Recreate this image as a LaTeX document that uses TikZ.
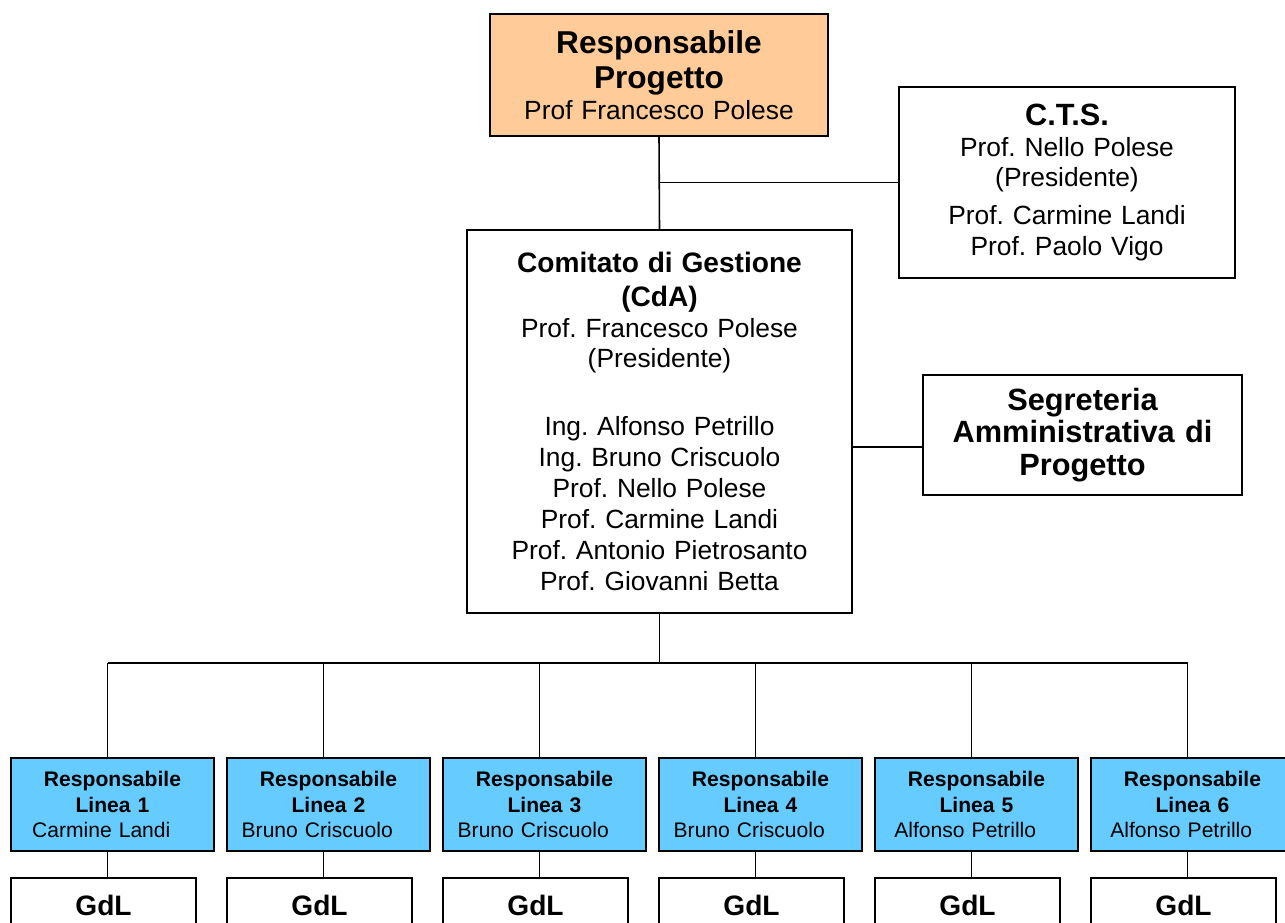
\documentclass[tikz,border=0pt]{standalone}
\usepackage{fontspec}
\usepackage{tikz}
\setmainfont{Liberation Sans}
\frenchspacing
\definecolor{chiefpeach}{RGB}{255, 204, 153}
\definecolor{leadblue}{RGB}{102, 204, 255}
\usetikzlibrary{positioning, calc}
\newcommand{\bigtitle}{\fontsize{18}{19.8}\selectfont\bfseries}
\newcommand{\boxtitle}{\fontsize{16}{19}\selectfont\bfseries}
\newcommand{\sidetitle}{\fontsize{17.5}{18.5}\selectfont\bfseries}
\newcommand{\boxtext}{\fontsize{15}{17.6}\selectfont}
\newcommand{\leadtext}{\fontsize{12}{14.4}\selectfont}

\begin{document}
\begin{tikzpicture}[
    x=0.02cm, y=-0.02cm,
    box/.style={rectangle, draw, line width=1.2pt, inner sep=0pt, align=center, font=\boxtext},
    chief/.style={box, fill=chiefpeach, minimum width=6.76cm, minimum height=2.44cm, text width=6.6cm},
    board/.style={box, fill=white},
    lead/.style={box, fill=leadblue, minimum width=4.06cm, minimum height=1.86cm, text width=3.9cm, font=\leadtext},
    wgbox/.style={box, fill=white, minimum width=3.7cm, minimum height=1.08cm, text width=3.5cm, font=\boxtitle},
    link/.style={line width=0.9pt}
]
    \useasboundingbox (0,0) rectangle (1285,923);
    \clip (0,0) rectangle (1285,923);

    \node[chief] (rp) at (659, 75) {{\bigtitle Responsabile\\Progetto\par}Prof Francesco Polese};

    \node[board, minimum width=6.72cm, minimum height=3.82cm, text width=6.5cm] (cts) at (1067, 182.5)
        {{\sidetitle C.T.S.\par}Prof. Nello Polese\\(Presidente)\\[4pt]Prof. Carmine Landi\\Prof. Paolo Vigo};

    \node[board, minimum width=7.7cm, minimum height=7.66cm, text width=7.4cm] (cdg) at (659.5, 421.5)
        {{\boxtitle Comitato di Gestione\\(CdA)\par}Prof. Francesco Polese\\(Presidente)\\[21pt]
         Ing. Alfonso Petrillo\\Ing. Bruno Criscuolo\\Prof. Nello Polese\\Prof. Carmine Landi\\
         Prof. Antonio Pietrosanto\\Prof. Giovanni Betta};

    \node[board, minimum width=6.38cm, minimum height=2.4cm, text width=6.2cm, font=\sidetitle] (seg) at (1082.5, 435)
        {Segreteria\\Amministrativa di\\Progetto};

    % linee e gruppi di lavoro
    \foreach \who [count=\i] in {Carmine Landi, Bruno Criscuolo, Bruno Criscuolo, Bruno Criscuolo, Alfonso Petrillo, Alfonso Petrillo} {
        \node[lead] (rl\i) at ({112.5+216*(\i-1)}, 804.5) {{\bfseries Responsabile\\Linea \i\par}\who\rule{0.45cm}{0pt}};
        \node[wgbox] (gdl\i) at ({103.5+216*(\i-1)}, 905) {GdL};
        \coordinate (d\i) at ({107.5+216*(\i-1)}, 663);
    }

    \draw[link] (rp.south) -- (cdg.north);
    \draw[link] (cts.west) -- (cts.west -| rp.south);
    \draw[link] ([yshift=-6.8pt]seg.west) -- ([yshift=-6.8pt]seg.west -| cdg.east);
    \draw[link] (cdg.south) -- (cdg.south |- d1);
    \draw[link] (d1) -- (d6);
    \foreach \i in {1,...,6} {
        \draw[link] (d\i) -- (d\i |- rl\i.north);
        \draw[link] (rl\i.south -| d\i) -- (gdl\i.north -| d\i);
    }
\end{tikzpicture}
\end{document}
